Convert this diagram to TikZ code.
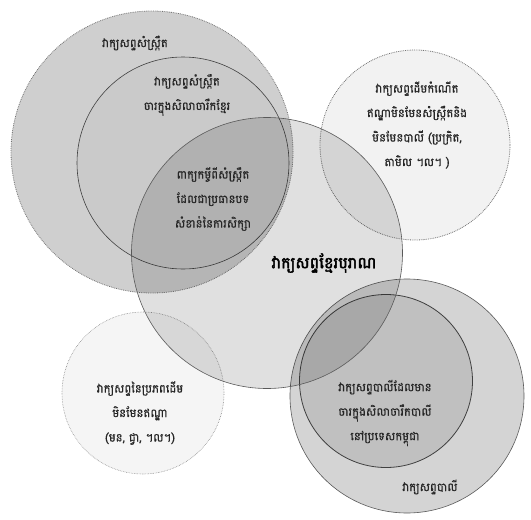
\documentclass[tikz,border=0pt]{standalone}
\usepackage{fontspec}
\newfontfamily\khmer[Script=Khmer,FakeBold=0.6]{Battambang}
\newfontfamily\khmerb[Script=Khmer,FakeBold=2.5]{Battambang}
\begin{document}
\begin{tikzpicture}[x=1pt,y=-1pt,
  lbl/.style={font=\khmer\fontsize{11.6}{24.5}\selectfont, text=black!85, align=center, inner sep=0pt},
  ring/.style={circle, inner sep=0pt, fill=black},
  dotring/.style={draw=black!55, densely dotted, line width=0.8pt},
  solring/.style={draw=black!65, line width=0.6pt}]
\useasboundingbox[fill=white] (0,0) rectangle (531,520);
% circles
\node[ring, dotring, fill opacity=0.19, minimum size=282] (skt) at (152,152) {};
\node[ring, solring, draw=black!75, fill opacity=0.02, minimum size=212] (sktk) at (183,163) {};
\node[ring, dotring, fill opacity=0.05, minimum size=190] (ind) at (415,145) {};
\node[ring, draw=black!45, densely dotted, line width=0.6pt, fill opacity=0.04, minimum size=162] (non) at (143,393) {};
\node[ring, solring, fill opacity=0.17, minimum size=234] (pali) at (407,396) {};
\node[ring, draw=black!75, line width=0.8pt, fill opacity=0.09, minimum size=173] (palik) at (386,381) {};
\node[ring, solring, fill opacity=0.12, minimum size=271] (old) at (267,253) {};
% labels
\node[lbl] (t1) at (135,43) {វាក្យសព្ទសំស្ក្រឹត};
\node[lbl] (t2) at (187,95) {វាក្យសព្ទសំស្ក្រឹត\\ចារក្នុងសិលាចារឹកខ្មែរ};
\node[lbl] (t3) at (213,199) {ពាក្យកម្ចីពីសំស្ក្រឹត\\ដែលជាប្រធានបទ\\សំខាន់នៃការសិក្សា};
\node[lbl] (t4) at (417,125) {វាក្យសព្ទដើមកំណើត\\ឥណ្ឌាមិនមែនសំស្ក្រឹតនិង\\មិនមែនបាលី (ប្រក្រិត,\\តាមិល ។ល។ )};
\node[lbl, font=\khmerb\fontsize{16}{24}\selectfont, text=black] (t5) at (324,263) {វាក្យសព្ទខ្មែរបុរាណ};
\node[lbl] (t6) at (140,413) {វាក្យសព្ទនៃប្រភពដើម\\មិនមែនឥណ្ឌា\\(មន, ជ្វា, ។ល។)};
\node[lbl] (t7) at (385,413) {វាក្យសព្ទបាលីដែលមាន\\ចារក្នុងសិលាចារឹកបាលី\\នៅប្រទេសកម្ពុជា};
\node[lbl] (t8) at (430,487) {វាក្យសព្ទបាលី};
\end{tikzpicture}
\end{document}
